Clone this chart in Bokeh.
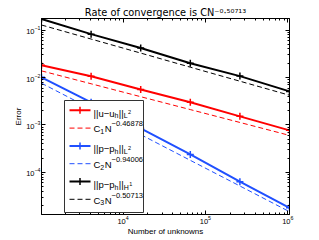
from bokeh.plotting import figure
from bokeh.models import Range1d, FixedTicker, LogAxis, Label, BoxAnnotation, Arrow
from bokeh.embed import file_html
from bokeh.resources import INLINE

# ---- data ----
N = [1024, 4096, 16384, 65536, 262144, 1048576]
err_u_L2 = [0.0182, 0.0106, 0.0056, 0.0030, 0.00152, 0.00077]
fit_u_L2 = [0.0138, 0.00738, 0.00394, 0.00211, 0.00113, 0.000603]
err_p_L2 = [0.0101, 0.0030, 0.00085, 0.00024, 0.000064, 0.000018]
fit_p_L2 = [0.00759, 0.00218, 0.000627, 0.000180, 5.18e-5, 1.49e-5]
err_p_H1 = [0.171, 0.082, 0.0417, 0.020, 0.0107, 0.0051]
fit_p_H1 = [0.1276, 0.0646, 0.0327, 0.0165, 0.00836, 0.00423]
rate_labels = ["\u22120.46878", "\u22120.94006", "\u22120.50713"]
title_text = "Rate of convergence is CN\u207b\u2070\u00b7\u2075\u2070\u2077\u00b9\u00b3"
x_ticks = [1e4, 1e5, 1e6]
y_ticks = [1e-4, 1e-3, 1e-2, 1e-1]

RED = "#ff0000"
BLUE = "#2050ff"
BLACK = "#000000"
FONT = "Liberation Sans"

x_minor = [m * 10.0 ** e for e in (3, 4, 5) for m in range(2, 10)]
y_minor = [m * 10.0 ** e for e in (-5, -4, -3, -2, -1) for m in range(2, 10)]

p = figure(width=319, height=240, x_axis_type="log", y_axis_type="log",
           x_range=Range1d(1024, 1048576), y_range=Range1d(1.3e-5, 0.175),
           output_backend="svg", toolbar_location=None,
           min_border_left=41, min_border_right=30, min_border_top=18, min_border_bottom=26)
p.grid.visible = False
p.outline_line_color = "black"
p.outline_line_width = 1
p.background_fill_color = "white"
p.border_fill_color = "white"

p.title.text = title_text
p.title.text_font = "DejaVu Sans"
p.title.text_font_size = "9.8px"
p.title.text_font_style = "normal"
p.title.text_color = "black"
p.title.align = "center"
p.title.standoff = 2

xt = FixedTicker(ticks=x_ticks, minor_ticks=x_minor)
yt = FixedTicker(ticks=y_ticks, minor_ticks=y_minor)
p.xaxis.ticker = xt
p.yaxis.ticker = yt


def style_axis(ax):
    ax.major_tick_in = 4
    ax.major_tick_out = 0
    ax.minor_tick_in = 2
    ax.minor_tick_out = 0
    ax.axis_line_color = "black"
    ax.major_tick_line_color = "black"
    ax.minor_tick_line_color = "black"
    ax.major_label_text_font = FONT
    ax.major_label_text_font_size = "7.5px"
    ax.major_label_text_color = "black"
    ax.axis_label_text_font = FONT
    ax.axis_label_text_font_size = "8px"
    ax.axis_label_text_font_style = "normal"
    ax.axis_label_text_color = "black"


for ax in (p.xaxis[0], p.yaxis[0]):
    style_axis(ax)
p.xaxis.axis_label = "Number of unknowns"
p.yaxis.axis_label = "Error"
p.xaxis.major_label_standoff = 1
p.xaxis.axis_label_standoff = 0
p.yaxis.major_label_standoff = 1
p.yaxis.axis_label_standoff = 0

for side, tk in (("above", xt), ("right", yt)):
    ax = LogAxis(ticker=tk)
    style_axis(ax)
    ax.major_label_text_font_size = "1px"
    ax.major_label_text_alpha = 0
    ax.major_label_standoff = 0
    p.add_layout(ax, side)

# ---- glyphs ----
series = [(err_u_L2, fit_u_L2, RED), (err_p_L2, fit_p_L2, BLUE), (err_p_H1, fit_p_H1, BLACK)]
for err, fit, col in series:
    p.line(N, err, line_color=col, line_width=2)
    p.scatter(N, err, marker="cross", size=7, line_color=col, line_width=1.5)
    p.line(N, fit, line_color=col, line_width=1, line_dash="5 3")

# ---- legend (drawn as annotations, screen units relative to the frame) ----
LEG_L, LEG_R, LEG_T, LEG_B = 23, 102, 114, 2
ROW0, PITCH = 9.8, 17.8          # first row centre below legend top, row pitch
SAMPLE_X0, SAMPLE_X1, TEXT_X = 28, 49, 52

p.add_layout(BoxAnnotation(left=LEG_L, right=LEG_R, top=LEG_T, bottom=LEG_B,
                           left_units="screen", right_units="screen",
                           top_units="screen", bottom_units="screen",
                           fill_color="white", fill_alpha=1,
                           line_color="#333333", line_width=1, line_alpha=1))

W = {"|": 260, "u": 556, "\u2212": 584, "h": 556, "L": 556, "H": 722, "p": 556,
     "C": 722, "N": 722, ".": 278}


def text_width(s, size):
    return sum(W.get(ch, 556) for ch in s) * size / 1000.0


STY = {"n": (9.5, 0.0), "sub": (7.0, -2.5), "sup": (7.5, 5.0), "subsup": (5.5, 1.0)}


def rich(pieces, x0, y0):
    x = x0
    for txt, kind in pieces:
        size, dy = STY[kind]
        p.add_layout(Label(x=x, y=y0 + dy, x_units="screen", y_units="screen", text=txt,
                           text_font=FONT, text_font_size=f"{size}px", text_color="black",
                           text_baseline="alphabetic", text_align="left"))
        x += text_width(txt, size) + (0.4 if kind == "sub" else 0.0)


entries = [
    (RED, True, [("||u\u2212u", "n"), ("h", "sub"), ("||", "n"), ("L", "sub"), ("2", "subsup")]),
    (RED, False, [("C", "n"), ("1", "sub"), ("N", "n"), (rate_labels[0], "sup")]),
    (BLUE, True, [("||p\u2212p", "n"), ("h", "sub"), ("||", "n"), ("L", "sub"), ("2", "subsup")]),
    (BLUE, False, [("C", "n"), ("2", "sub"), ("N", "n"), (rate_labels[1], "sup")]),
    (BLACK, True, [("||p\u2212p", "n"), ("h", "sub"), ("||", "n"), ("H", "sub"), ("1", "subsup")]),
    (BLACK, False, [("C", "n"), ("3", "sub"), ("N", "n"), (rate_labels[2], "sup")]),
]
for k, (col, solid, pieces) in enumerate(entries):
    cy = LEG_T - ROW0 - k * PITCH
    if solid:
        p.add_layout(Arrow(end=None, x_start=SAMPLE_X0, y_start=cy, x_end=SAMPLE_X1, y_end=cy,
                           start_units="screen", end_units="screen",
                           line_color=col, line_width=2))
        mx = (SAMPLE_X0 + SAMPLE_X1) / 2
        p.add_layout(Arrow(end=None, x_start=mx, y_start=cy - 3.5, x_end=mx, y_end=cy + 3.5,
                           start_units="screen", end_units="screen",
                           line_color=col, line_width=1.5))
        rich(pieces, TEXT_X, cy - 3.0)
    else:
        p.add_layout(Arrow(end=None, x_start=SAMPLE_X0, y_start=cy, x_end=SAMPLE_X1, y_end=cy,
                           start_units="screen", end_units="screen",
                           line_color=col, line_width=1, line_dash="5 3"))
        rich(pieces, TEXT_X, cy - 0.8)

open("out.html", "w").write(file_html(p, INLINE))
